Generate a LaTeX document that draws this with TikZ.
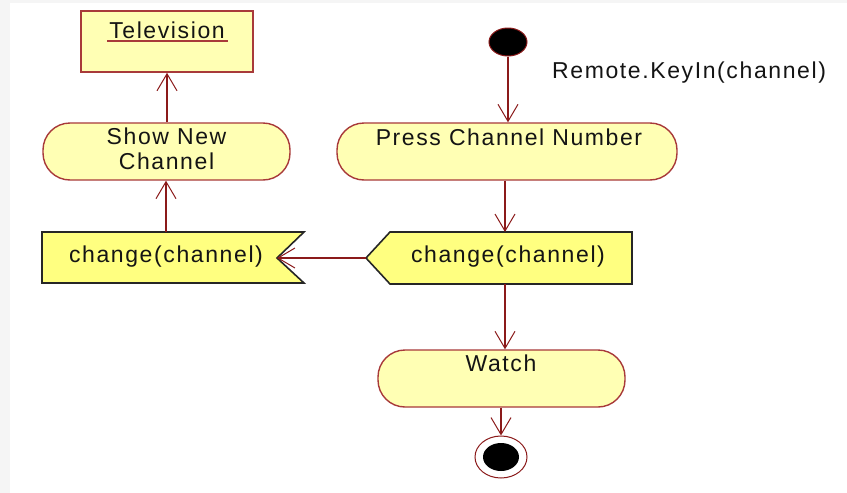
\documentclass[tikz,border=0pt]{standalone}
\usepackage{fontspec}
\newfontfamily\ui[LetterSpace=7]{Liberation Sans}
\usetikzlibrary{arrows.meta,shapes.geometric}
\definecolor{edge}{HTML}{8B1A1A}
\definecolor{bord}{HTML}{A83A3A}
\definecolor{pale}{HTML}{FFFFB4}
\definecolor{sig}{HTML}{FFFF80}
\definecolor{txt}{HTML}{141414}
\tikzset{
  stadium/.style={draw=bord, line width=1.4pt, fill=pale, rounded corners=27pt, inner sep=0pt},
  tvbox/.style={draw=bord, line width=1.6pt, fill=pale, inner sep=0pt},
  lbl/.style={font=\ui\fontsize{23}{25}\selectfont, text=txt, inner sep=0pt, align=center},
  sigbox/.style={draw=black!85, line width=1.6pt, fill=sig},
  arr/.style={draw=edge, line width=1.3pt, -{Straight Barb[length=17pt,width=20pt,line width=1pt]}}
}
\begin{document}
\begin{tikzpicture}[x=1pt,y=-1pt]
\useasboundingbox (0,0) rectangle (847,493);
\fill[black!4] (0,0) rectangle (847,493);
\fill[white] (10,3) rectangle (847,493);
% Television
\node[tvbox, minimum width=172pt, minimum height=61pt] (tv) at (167,41.5) {};
\node[lbl] (tvtext) at (167,30) {Television};
\draw[bord, line width=1.4pt] (107,41) -- (228,41);
% Show New Channel
\node[stadium, minimum width=247pt, minimum height=57pt] (show) at (166.5,151.5) {};
\node[lbl] (showtext) at (166.5,148.5) {Show New\\Channel};
% receive signal
\filldraw[sigbox] (42,232) -- (304,232) -- (277,258) -- (304,283) -- (42,283) -- cycle;
\coordinate (recvN) at (166,232);
\coordinate (recvE) at (277,258);
\node[lbl] (recvtext) at (166,257) {change(channel)};
% initial
\node[draw=edge, line width=1pt, fill=black, ellipse, minimum width=38pt, minimum height=28pt, inner sep=0pt] (init) at (508,42) {};
\node[lbl, anchor=west] (guard) at (552,73) {Remote.KeyIn(channel)};
% Press Channel Number
\node[stadium, minimum width=340pt, minimum height=57pt] (press) at (507,151.5) {};
\node[lbl] (presstext) at (509,137) {Press Channel Number};
% send signal
\filldraw[sigbox] (390,232) -- (632,232) -- (632,284) -- (390,284) -- (366,258) -- cycle;
\coordinate (sendN) at (505,232);
\coordinate (sendS) at (505,284);
\coordinate (sendW) at (366,258);
\node[lbl] (sendtext) at (508,257) {change(channel)};
% Watch
\node[stadium, minimum width=247pt, minimum height=57pt] (watch) at (501.5,378.5) {};
\node[lbl] (watchtext) at (501,363) {Watch};
% final
\node[draw=edge, line width=1pt, fill=white, ellipse, minimum width=52pt, minimum height=42pt, inner sep=0pt] (final) at (501,457) {};
\node[fill=black, ellipse, minimum width=36pt, minimum height=28pt, inner sep=0pt] (finalin) at (501,457) {};
% connectors
\draw[arr] (init.south) -- (init.south |- press.north);
\draw[arr] (sendN |- press.south) -- (sendN);
\draw[arr] (sendW) -- (recvE);
\draw[arr] (recvN) -- (recvN |- show.south);
\draw[arr] (show.north -| tv.south) -- (tv.south);
\draw[arr] (sendS) -- (sendS |- watch.north);
\draw[arr] (final.north |- watch.south) -- (final.north);
\end{tikzpicture}
\end{document}
